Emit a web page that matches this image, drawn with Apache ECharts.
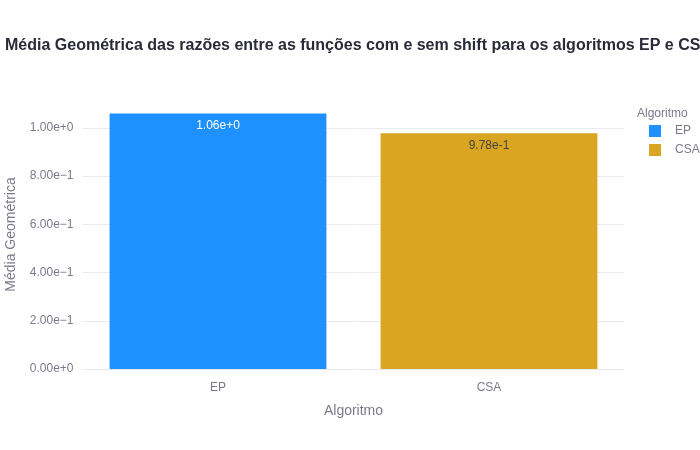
<!DOCTYPE html>
<html>
<head>
<meta charset="utf-8">
<script src="https://cdn.jsdelivr.net/npm/echarts@6/dist/echarts.min.js"></script>
<style>html,body{margin:0;padding:0;background:#fff}#c{width:700px;height:450px}</style>
</head>
<body>
<div id="c"></div>
<script>
const categories = ['EP', 'CSA'];
const values = [1.06, 0.978];
const colors = ['#1E90FF', '#DAA520'];
const labelColors = ['#ffffff', '#444444'];
const titleText = 'Média Geométrica das razões entre as funções com e sem shift para os algoritmos EP e CSA';
const yAxisTitle = 'Média Geométrica';
const xAxisTitle = 'Algoritmo';
const legendTitle = 'Algoritmo';

const FONT = '"Liberation Sans", Arial, sans-serif';
const GRAY = '#7a7a8c';

const chart = echarts.init(document.getElementById('c'), null, {renderer: 'canvas'});
const series = categories.map((name, i) => ({
  name: name,
  type: 'bar',
  barWidth: '80%',
  barGap: '-100%',
  data: categories.map((c, j) => j === i ? values[i] : null),
  itemStyle: {color: colors[i]},
  label: {
    show: true,
    position: 'insideTop',
    distance: 6,
    color: labelColors[i],
    fontFamily: FONT,
    fontSize: 12,
    formatter: p => p.value.toExponential(2)
  },
  emphasis: {disabled: true}
}));

chart.setOption({
  animation: false,
  title: [
    {text: titleText, left: 0, top: 33,
     textStyle: {fontFamily: FONT, fontSize: 16, fontWeight: 'bold', color: '#2a2a38'}},
    {text: legendTitle, left: 632, top: 103,
     textStyle: {fontFamily: FONT, fontSize: 12, fontWeight: 'normal', color: GRAY}}
  ],
  legend: {
    orient: 'vertical', left: 644, top: 120,
    itemWidth: 12, itemHeight: 12, itemGap: 7, icon: 'rect',
    data: categories,
    textStyle: {fontFamily: FONT, fontSize: 12, color: GRAY, padding: [0, 0, 0, 9]}
  },
  grid: {left: 82.5, right: 75.5, top: 100, bottom: 81, containLabel: false, outerBoundsMode: 'none'},
  xAxis: {
    type: 'category', data: categories,
    name: xAxisTitle, nameLocation: 'middle', nameGap: 35,
    nameTextStyle: {fontFamily: FONT, fontSize: 14, color: GRAY},
    axisLine: {show: false}, axisTick: {show: false},
    axisLabel: {fontFamily: FONT, fontSize: 12, color: GRAY, margin: 13}
  },
  yAxis: {
    type: 'value', min: 0, max: 1.116, interval: 0.2,
    name: yAxisTitle, nameLocation: 'middle', nameGap: 64,
    nameTextStyle: {fontFamily: FONT, fontSize: 14, color: GRAY},
    axisLine: {show: false}, axisTick: {show: false},
    axisLabel: {fontFamily: FONT, fontSize: 12, color: GRAY, margin: 9, showMaxLabel: false,
      formatter: v => v.toExponential(2).replace('-', '\u2212')},
    splitLine: {show: true, showMaxLine: false, lineStyle: {color: '#e8ecf2', width: 1}}
  },
  series: series
});
</script>
</body>
</html>
